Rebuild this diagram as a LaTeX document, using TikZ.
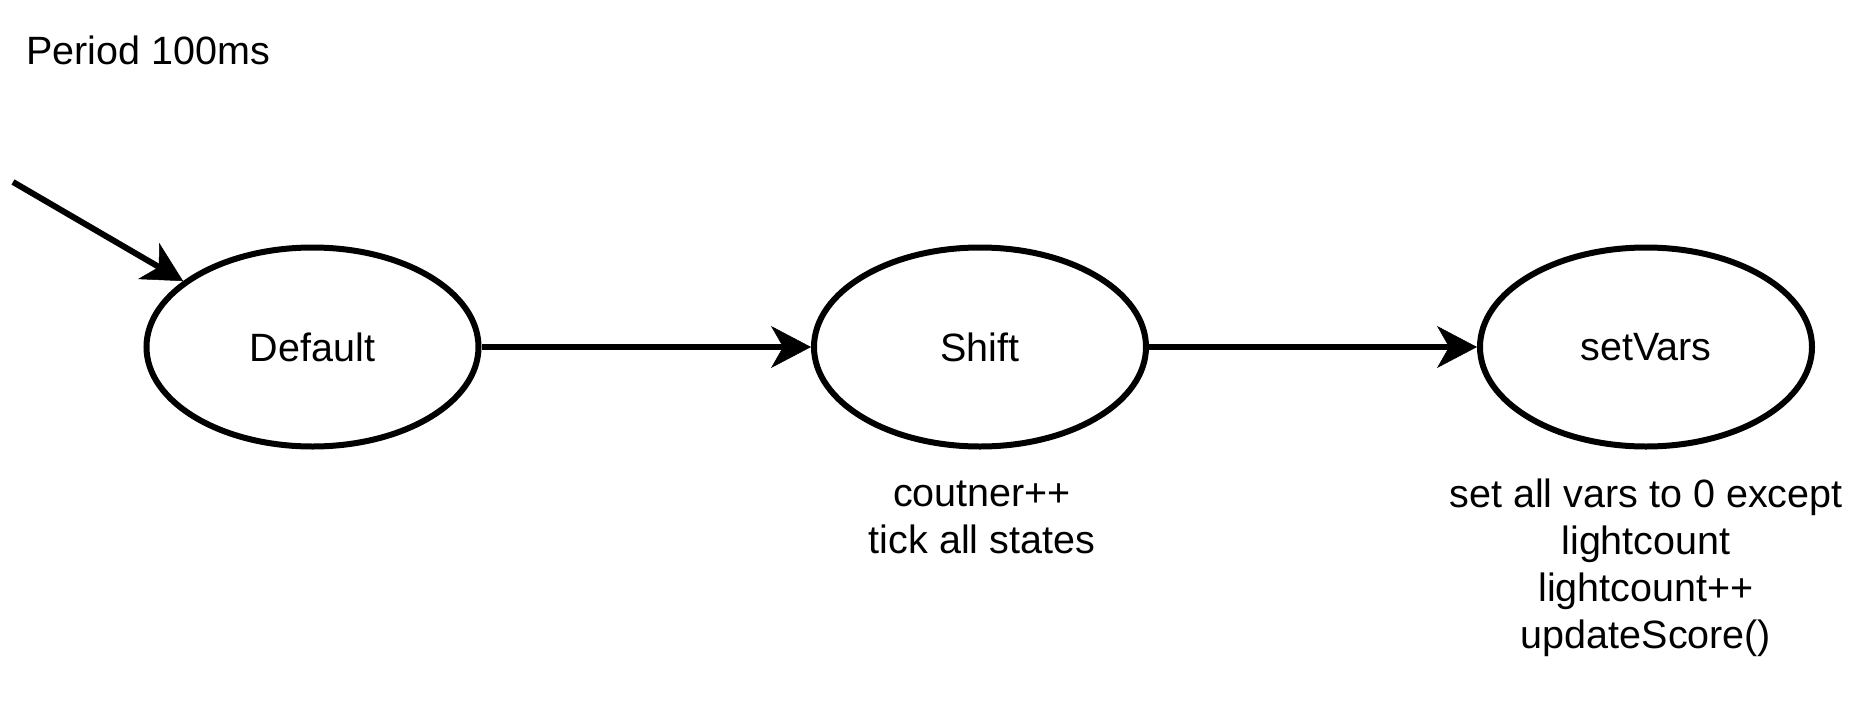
\documentclass[tikz,border=0pt]{standalone}
\usepackage{fontspec}
\setmainfont{Liberation Sans}
\usetikzlibrary{shapes.geometric,arrows.meta}
\begin{document}
\begin{tikzpicture}[x=1pt,y=-1pt,
  txt/.style={font=\fontsize{39.5}{47}\selectfont},
  state/.style={ellipse,draw,line width=6pt,minimum width=332pt,minimum height=199pt,inner sep=0pt,txt},
  lbl/.style={txt,align=center,anchor=base,inner sep=0pt},
  conn/.style={line width=6pt,-{Stealth[length=40pt,width=42pt,inset=12pt,line width=0.5pt]}}]
\useasboundingbox (0,0) rectangle (1866,707);
\node[txt,anchor=base west,inner sep=0pt] (period) at (26,64) {Period 100ms};
\node[state] (default) at (312.5,347) {Default};
\node[state] (shift) at (980,347) {Shift};
\node[state] (setvars) at (1646,347) {setVars};
\node[lbl] (shiftlbl) at (982,553) {coutner++\\tick all states};
\node[lbl] (setvarslbl) at (1646,648) {set all vars to 0 except\\lightcount\\lightcount++\\updateScore()};
\coordinate (start) at (13,182);
\draw[conn] (start) -- (default.153);
\draw[conn] (default) -- (shift);
\draw[conn] (shift) -- (setvars);
\end{tikzpicture}
\end{document}
